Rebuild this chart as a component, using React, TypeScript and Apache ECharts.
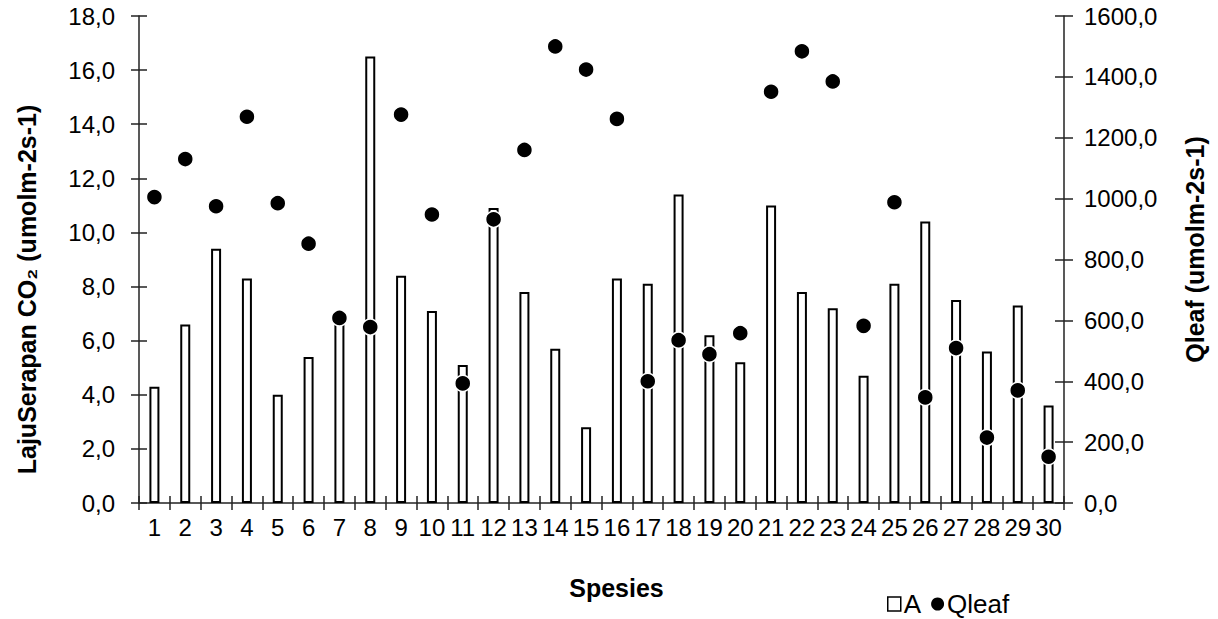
import React, { useEffect, useRef } from "react";
import * as echarts from "echarts";

const categories = ["1","2","3","4","5","6","7","8","9","10","11","12","13","14","15","16","17","18","19","20","21","22","23","24","25","26","27","28","29","30"];
const aValues = [4.3, 6.6, 9.4, 8.3, 4.0, 5.4, 6.9, 16.5, 8.4, 7.1, 5.1, 10.9, 7.8, 5.7, 2.8, 8.3, 8.1, 11.4, 6.2, 5.2, 11.0, 7.8, 7.2, 4.7, 8.1, 10.4, 7.5, 5.6, 7.3, 3.6];
const qleafValues = [1005, 1130, 975, 1269, 985, 852, 608, 578, 1276, 948, 393, 932, 1160, 1500, 1424, 1262, 400, 535, 489, 558, 1351, 1484, 1385, 582, 988, 347, 509, 215, 370, 152];
const leftTicks = { min: 0, max: 18, interval: 2 };
const rightTicks = { min: 0, max: 1600, interval: 200 };

const FONT = "Liberation Sans, Arial, sans-serif";
const AXIS_COLOR = "#222";

const fmt = (v: number) => v.toFixed(1).replace(".", ",");

export default function App() {
  const ref = useRef<HTMLDivElement>(null);
  useEffect(() => {
    if (!ref.current) return;
    const chart = echarts.init(ref.current, undefined, { renderer: "svg" });
    const tickLabel = { fontFamily: FONT, fontSize: 24, color: "#000" };
    const nameStyle = { fontFamily: FONT, fontSize: 25, fontWeight: "bold" as const, color: "#000" };
    const gridRect = { left: 139, right: 154, top: 16, bottom: 116, containLabel: false };
    const tickLine = { color: AXIS_COLOR, width: 1.5 };
    chart.setOption({
      animation: false,
      backgroundColor: "#fff",
      grid: [gridRect, { ...gridRect }],
      legend: {
        left: 882,
        top: 586,
        itemWidth: 13,
        itemHeight: 14,
        itemGap: 10,
        textStyle: { fontFamily: FONT, fontSize: 26, lineHeight: 26, color: "#000", padding: [0, 0, 0, -2] },
        data: [
          { name: "A", icon: "rect", itemStyle: { color: "#fff", borderColor: "#000", borderWidth: 1.5, opacity: 1 } },
          { name: "Qleaf", icon: "circle", itemStyle: { color: "#000", borderWidth: 0, opacity: 1 } },
        ],
      },
      xAxis: [
        {
          type: "category",
          gridIndex: 0,
          data: categories,
          boundaryGap: true,
          position: "bottom",
          axisLine: { lineStyle: tickLine },
          axisTick: { show: true, length: 7, alignWithLabel: false, lineStyle: tickLine },
          axisLabel: { ...tickLabel, margin: 12, interval: 0 },
          name: "Spesies",
          nameLocation: "middle",
          nameGap: 72,
          nameTextStyle: { ...nameStyle, padding: [0, 0, 0, 30] },
          splitLine: { show: false },
        },
        {
          type: "category",
          gridIndex: 1,
          data: categories,
          boundaryGap: true,
          position: "bottom",
          axisLine: { show: false },
          axisTick: { show: true, inside: true, length: 7, lineStyle: tickLine },
          axisLabel: { show: false },
          splitLine: { show: false },
        },
      ],
      yAxis: [
        {
          type: "value",
          gridIndex: 0,
          position: "left",
          ...leftTicks,
          axisLine: { show: true, lineStyle: tickLine },
          axisTick: { show: true, length: 8, lineStyle: tickLine },
          axisLabel: { ...tickLabel, margin: 24, formatter: fmt },
          splitLine: { show: false },
          name: "LajuSerapan CO₂ (umolm-2s-1)",
          nameLocation: "middle",
          nameRotate: 90,
          nameGap: 100,
          nameTextStyle: { ...nameStyle, padding: [0, 60, 0, 0] },
        },
        {
          type: "value",
          gridIndex: 0,
          position: "right",
          ...rightTicks,
          axisLine: { show: true, lineStyle: tickLine },
          axisTick: { show: true, length: 9, lineStyle: tickLine },
          axisLabel: { ...tickLabel, margin: 20, formatter: fmt },
          splitLine: { show: false },
          name: "Qleaf (umolm-2s-1)",
          nameLocation: "middle",
          nameRotate: 90,
          nameGap: 118,
          nameTextStyle: { ...nameStyle, padding: [0, 0, 0, 20] },
        },
        {
          type: "value",
          gridIndex: 1,
          position: "left",
          ...leftTicks,
          axisLine: { show: false },
          axisTick: { show: true, inside: true, length: 8, lineStyle: tickLine },
          axisLabel: { show: false },
          splitLine: { show: false },
        },
        {
          type: "value",
          gridIndex: 1,
          position: "right",
          ...rightTicks,
          axisLine: { show: false },
          axisTick: { show: true, inside: true, length: 9, lineStyle: tickLine },
          axisLabel: { show: false },
          splitLine: { show: false },
        },
      ],
      series: [
        {
          name: "A",
          type: "bar",
          xAxisIndex: 0,
          yAxisIndex: 0,
          data: aValues,
          barWidth: 10,
          itemStyle: { color: "#fff", borderColor: "#000", borderWidth: 2, opacity: 1 },
          z: 2,
        },
        {
          name: "Qleaf",
          type: "scatter",
          xAxisIndex: 0,
          yAxisIndex: 1,
          data: qleafValues,
          symbol: "circle",
          symbolSize: 16,
          itemStyle: { color: "#000", borderColor: "#fff", borderWidth: 1.5, opacity: 1 },
          z: 3,
        },
      ],
    });
    return () => chart.dispose();
  }, []);
  return <div ref={ref} style={{ width: 1218, height: 619, position: "absolute", left: 0, top: 0 }} />;
}
